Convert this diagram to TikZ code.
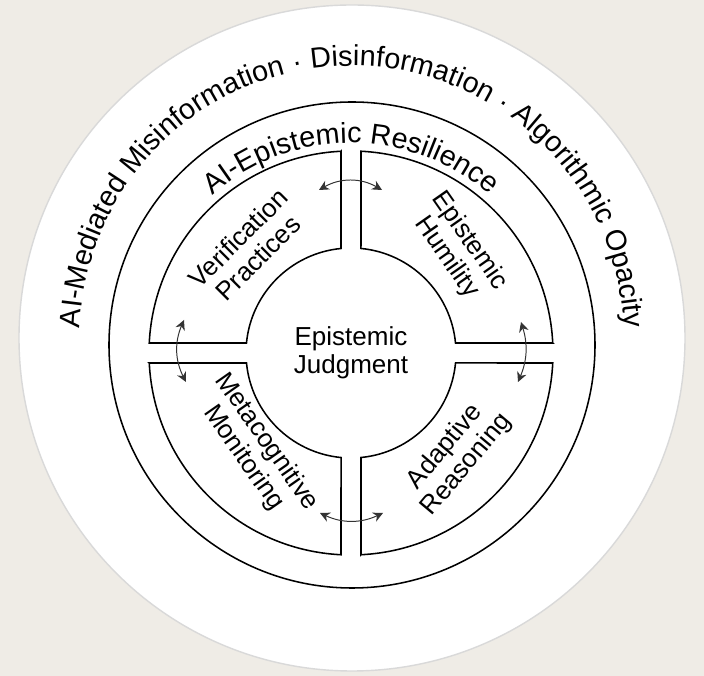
\documentclass[tikz,border=0pt]{standalone}
\usepackage{fontspec}
\setmainfont{Liberation Sans}
\usetikzlibrary{arrows.meta,decorations.text,calc}
\definecolor{paper}{HTML}{EFECE6}
\definecolor{rim}{HTML}{D9D9D9}
\begin{document}
\begin{tikzpicture}[
		x=0.025cm, y=0.025cm,
		ring/.style={draw=black, line width=1.1pt},
		quad/.style={draw=black, line width=1.1pt, fill=white},
		qlabel/.style={align=center, font=\fontsize{18.5}{20}\selectfont, inner sep=0pt},
		link/.style={<->, >={Stealth[length=7pt,width=7pt]}, line width=0.7pt, black!80}
		]
		\fill[paper] (0,0) rectangle (704,676);
		\useasboundingbox (0,0) rectangle (704,676);
		\coordinate (O) at (352,338);
		\coordinate (M) at (352,331);
		\coordinate (C) at (351,323);
		\fill[white, draw=rim, line width=1pt] (O) circle[radius=333];
		\draw[ring] (M) circle[radius=243];
		% outer text
		\path[decorate, decoration={text along path, text align=center,
			text={|\fontsize{20.5}{20}\selectfont|AI-Mediated Misinformation · Disinformation · Algorithmic Opacity}}]
			($(O)+(195:272)$) arc[start angle=195, end angle=-15, radius=272];
		\path[decorate, decoration={text along path, text align=center,
			text={|\fontsize{20.5}{20}\selectfont|AI-Epistemic Resilience}}]
			($(C)+(150:210)$) arc[start angle=150, end angle=30, radius=210];
		% quadrants
		\foreach \a in {0,90,180,270}{
			\begin{scope}[shift={(C)}, rotate=\a]
				\draw[quad] (-10,201.75) -- (-10,104.5)
					arc[start angle=95.46, end angle=174.54, radius=105]
					-- (-201.75,10)
					arc[start angle=177.16, end angle=92.84, radius=202] -- cycle;
			\end{scope}
		}
		\node[qlabel, rotate=45] (ver) at (248,428) {Verification\\Practices};
		\node[qlabel, rotate=-55] (hum) at (458,427) {Epistemic\\Humility};
		\node[qlabel, rotate=-55] (meta) at (255,226) {Metacognitive\\Monitoring};
		\node[qlabel, rotate=50] (adapt) at (456,220) {Adaptive\\Reasoning};
		\node[qlabel] (judg) at (C) {Epistemic\\Judgment};
		% links
		\coordinate (t1) at (319,486);
		\coordinate (t2) at (382,486);
		\coordinate (l1) at (184,356);
		\coordinate (l2) at (186,294);
		\coordinate (r1) at (521,354);
		\coordinate (r2) at (518,294);
		\coordinate (b1) at (320,163);
		\coordinate (b2) at (383,163);
		\draw[link] (t1) to[bend left=30] (t2);
		\draw[link] (l1) to[bend right=25] (l2);
		\draw[link] (r1) to[bend left=20] (r2);
		\draw[link] (b1) to[bend right=25] (b2);
	\end{tikzpicture}
\end{document}
